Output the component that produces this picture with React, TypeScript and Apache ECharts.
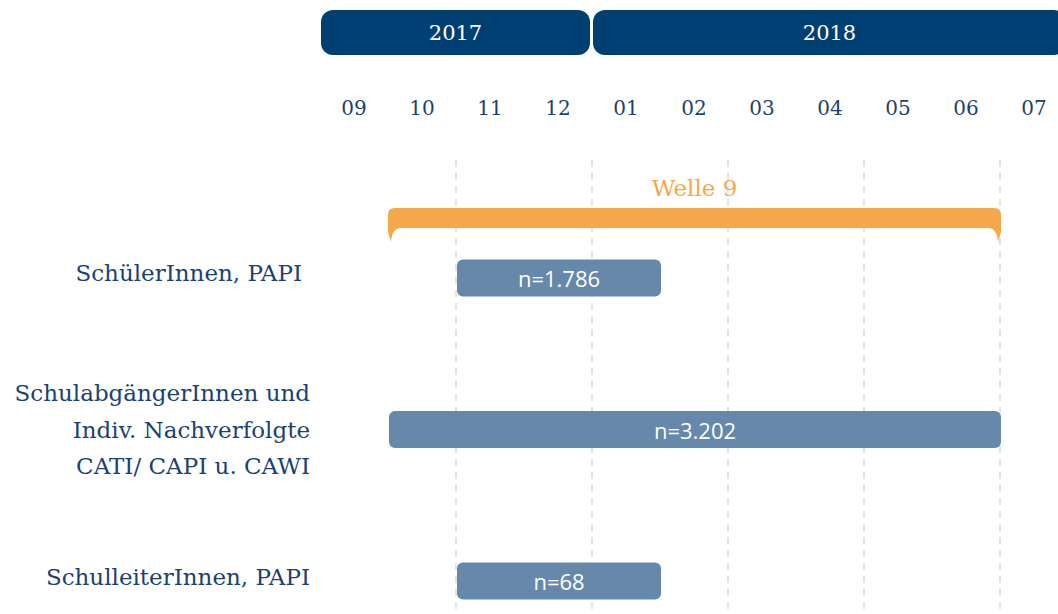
import React, { useEffect, useRef } from "react";
import * as echarts from "echarts";

const months = ["09", "10", "11", "12", "01", "02", "03", "04", "05", "06", "07"];
const years = ["2017", "2018"];
const yearStart = [0, 4];
const yearEnd = [4, 11];
const groups = [
  "SchülerInnen, PAPI",
  "SchulabgängerInnen und\nIndiv. Nachverfolgte\nCATI/ CAPI u. CAWI",
  "SchulleiterInnen, PAPI",
];
const barStart = [2, 1, 2];
const barEnd = [5, 10, 5];
const barLabels = ["n=1.786", "n=3.202", "n=68"];
const waveLabel = "Welle 9";
const waveStart = 1;
const waveEnd = 10;

const NAVY = "#1A4272";
const HEADER = "#003F72";
const BAR = "#6689AB";
const ORANGE = "#F5A84A";
const SERIF = "'DejaVu Serif', serif";

export default function App() {
  const ref = useRef<HTMLDivElement>(null);
  useEffect(() => {
    if (!ref.current) return;
    const chart = echarts.init(ref.current, null, { renderer: "svg" });
    const labelStyle = { fontSize: 23, color: NAVY, fontFamily: SERIF };
    const option: any = {
      animation: false,
      backgroundColor: "#ffffff",
      grid: [
        { left: 320, top: 160, width: 748, bottom: 0, outerBoundsMode: "none", containLabel: false },
        { left: 320, top: 278, width: 748, height: 303, outerBoundsMode: "none", containLabel: false },
      ],
      xAxis: [
        {
          type: "value",
          gridIndex: 0,
          min: 0,
          max: 11,
          interval: 2,
          axisLine: { show: false },
          axisTick: { show: false },
          axisLabel: { show: false },
          splitLine: {
            show: true,
            showMinLine: false,
            lineStyle: { color: "#E3E3E3", width: 2, type: [7, 6] },
          },
        },
        {
          type: "category",
          gridIndex: 0,
          position: "top",
          data: months,
          boundaryGap: true,
          axisLine: { show: false },
          axisTick: { show: false },
          splitLine: { show: false },
          axisLabel: {
            interval: 0,
            margin: 52,
            verticalAlign: "middle",
            fontSize: 20,
            color: NAVY,
            fontFamily: SERIF,
          },
        },
        {
          type: "value",
          gridIndex: 1,
          min: 0,
          max: 11,
          show: false,
          splitLine: { show: false },
        },
      ],
      yAxis: [
        { type: "value", gridIndex: 0, min: 0, max: 1, show: false, splitLine: { show: false } },
        {
          type: "category",
          gridIndex: 1,
          data: groups,
          inverse: true,
          boundaryGap: false,
          axisLine: { show: false },
          axisTick: { show: false },
          splitLine: { show: false },
          axisLabel: {
            interval: 0,
            margin: 10,
            lineHeight: 36.5,
            ...labelStyle,
            formatter: (v: string, i: number) =>
              i === 0 ? `{a|${v}}` : i === 2 ? `{b|${v}}` : v,
            rich: {
              a: { ...labelStyle, padding: [0, 8, 10, 0] },
              b: { ...labelStyle, padding: [0, 0, 8, 0] },
            },
          },
        },
      ],
      series: [
        {
          type: "custom",
          xAxisIndex: 2,
          yAxisIndex: 1,
          encode: { x: [1, 2], y: 0 },
          data: groups.map((_, i) => [i, barStart[i], barEnd[i]]),
          renderItem: (params: any, api: any) => {
            const cat = api.value(0);
            const s = api.coord([api.value(1), cat]);
            const e = api.coord([api.value(2), cat]);
            const h = 37;
            return {
              type: "rect",
              shape: { x: s[0] + 1, y: s[1] - h / 2, width: e[0] - s[0], height: h, r: 6 },
              style: { fill: BAR },
              textContent: {
                style: {
                  text: barLabels[params.dataIndex],
                  fill: "#ffffff",
                  fontSize: 22,
                  fontFamily: "'Open Sans', sans-serif",
                },
              },
              textConfig: { position: "inside" },
            };
          },
        },
        {
          type: "custom",
          xAxisIndex: 2,
          yAxisIndex: 1,
          encode: { x: [0, 1] },
          data: years.map((_, i) => [yearStart[i], yearEnd[i]]),
          renderItem: (params: any, api: any) => {
            const x0 = api.coord([api.value(0), 0])[0];
            const x1 = api.coord([api.value(1), 0])[0];
            return {
              type: "rect",
              shape: { x: x0 + 1, y: 10, width: x1 - x0 - 3, height: 45, r: 12 },
              style: { fill: HEADER },
              textContent: {
                style: {
                  text: years[params.dataIndex],
                  fill: "#ffffff",
                  fontSize: 21,
                  fontFamily: SERIF,
                },
              },
              textConfig: { position: "inside" },
            };
          },
        },
        {
          type: "custom",
          xAxisIndex: 2,
          yAxisIndex: 1,
          encode: { x: [0, 1] },
          data: [[waveStart, waveEnd]],
          renderItem: (params: any, api: any) => {
            const x0 = api.coord([api.value(0), 0])[0];
            const x1 = api.coord([api.value(1), 0])[0] + 1;
            const y0 = 208;
            const d =
              `M ${x0} ${y0 + 7} Q ${x0} ${y0} ${x0 + 7} ${y0} ` +
              `L ${x1 - 7} ${y0} Q ${x1} ${y0} ${x1} ${y0 + 7} ` +
              `L ${x1} ${y0 + 24} L ${x1 - 3} ${y0 + 34} ` +
              `Q ${x1 - 4} ${y0 + 20} ${x1 - 13} ${y0 + 20} ` +
              `L ${x0 + 13} ${y0 + 20} Q ${x0 + 4} ${y0 + 20} ${x0 + 3} ${y0 + 34} ` +
              `L ${x0} ${y0 + 24} Z`;
            return {
              type: "group",
              children: [
                { type: "path", shape: { pathData: d }, style: { fill: ORANGE } },
                {
                  type: "text",
                  x: (x0 + x1) / 2,
                  y: 188,
                  style: {
                    text: waveLabel,
                    fill: ORANGE,
                    fontSize: 23,
                    fontFamily: SERIF,
                    align: "center",
                    verticalAlign: "middle",
                  },
                },
              ],
            };
          },
        },
      ],
    };
    chart.setOption(option);
    return () => chart.dispose();
  }, []);
  return (
    <div
      ref={ref}
      style={{ position: "absolute", left: 0, top: 0, width: 1058, height: 614 }}
    />
  );
}
